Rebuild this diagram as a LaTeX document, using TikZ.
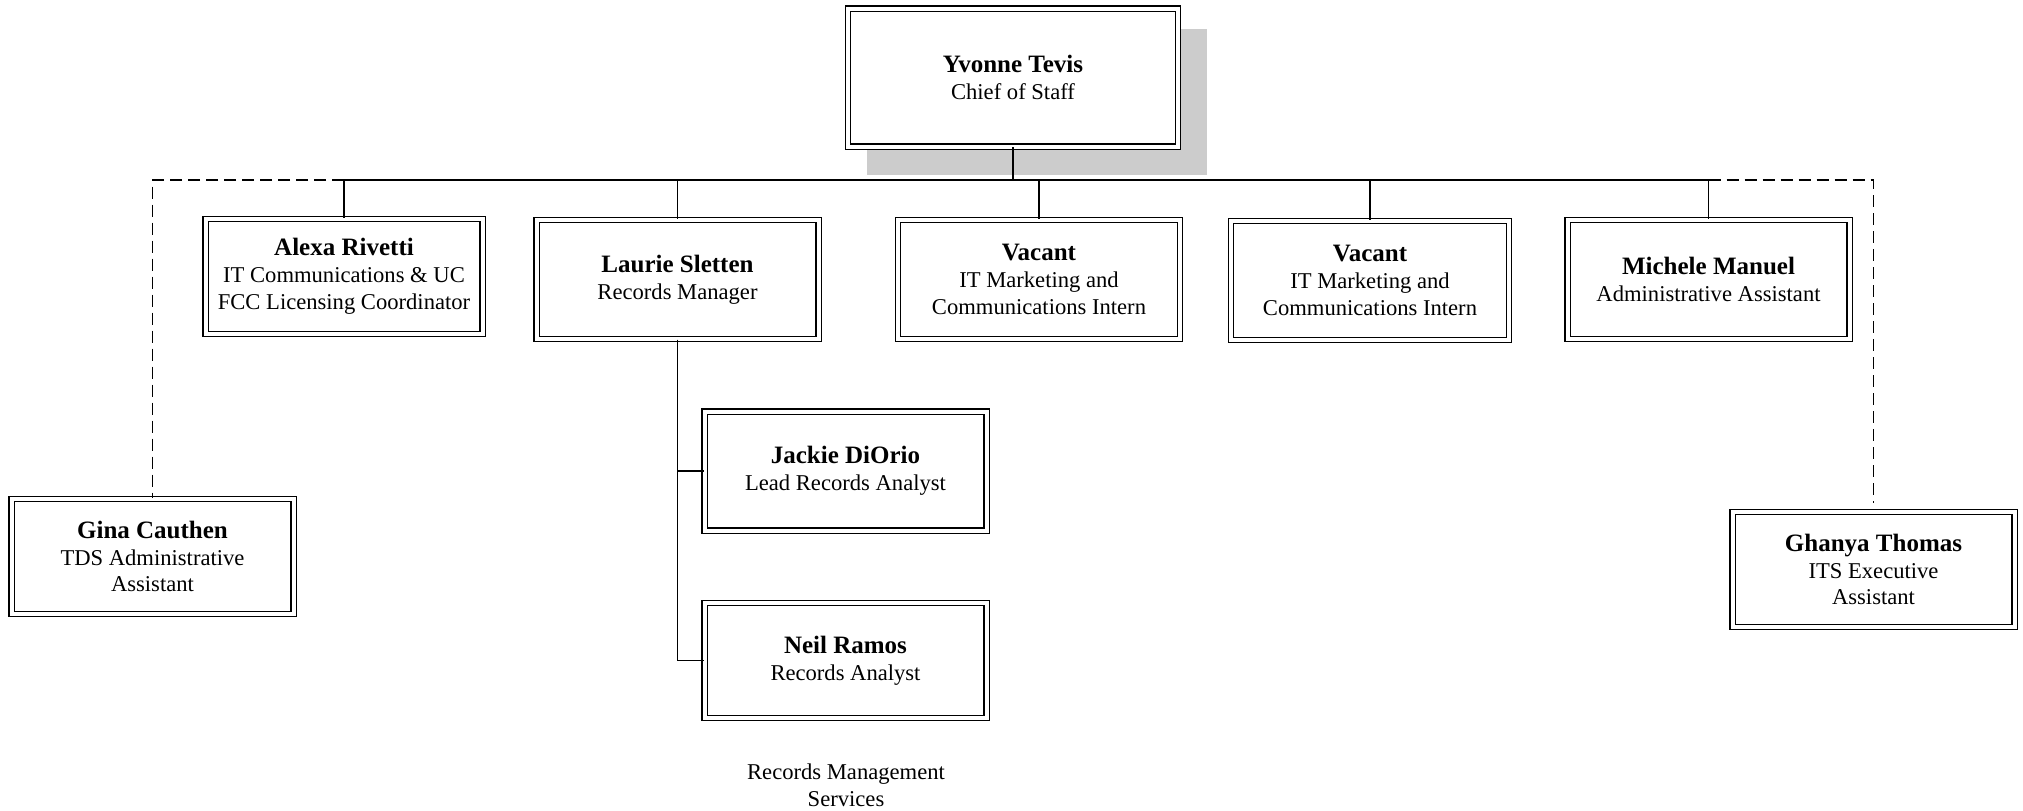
\documentclass[tikz,border=0pt]{standalone}
\usepackage{fontspec}
\setmainfont{Liberation Serif}
\usetikzlibrary{positioning, backgrounds}
\newcommand{\titlefont}{\fontsize{11.3}{13.4}\selectfont}
\newcommand{\pname}[1]{{\fontsize{12.5}{13.4}\selectfont\bfseries #1}}

\begin{document}
\begin{tikzpicture}[x=0.5pt, y=-0.5pt, person/.style={rectangle, draw=black, double, double distance=2pt, line width=0.6pt, fill=white, align=center, font=\titlefont, inner sep=0pt, minimum width=141pt, minimum height=59.5pt}, chief/.style={person, minimum width=165pt, minimum height=69pt}, link/.style={draw=black, line width=0.8pt}, dashlink/.style={draw=black, line width=0.8pt, dash pattern=on 6pt off 3pt}, caption/.style={draw=none, fill=none, align=center, font=\titlefont}]

    \useasboundingbox (0,0) rectangle (2023,810);

    %Nodes
    \node[chief](tevis) at (1013,77.5){\pname{Yvonne Tevis}\\Chief of Staff};
    \node[person, minimum width=138.5pt, minimum height=57.5pt](rivetti) at (344,276.5){\pname{Alexa Rivetti}\\IT Communications \& UC\\FCC Licensing Coordinator};
    \node[person](sletten) at (677.5,279.5){\pname{Laurie Sletten}\\Records Manager};
    \node[person](vacanta) at (1039,279.5){\pname{Vacant}\\IT Marketing and\\Communications Intern};
    \node[person, minimum width=139pt](vacantb) at (1370,280.5){\pname{Vacant}\\IT Marketing and\\Communications Intern};
    \node[person](manuel) at (1708.5,279.5){\pname{Michele Manuel}\\Administrative Assistant};
    \node[person, minimum height=57.5pt](cauthen) at (152.5,556.5){\pname{Gina Cauthen}\\TDS Administrative\\Assistant};
    \node[person, minimum height=57.5pt](thomas) at (1873.5,569.5){\pname{Ghanya Thomas}\\ITS Executive\\Assistant};
    \node[person](diorio) at (845.5,471){\pname{Jackie DiOrio}\\Lead Records Analyst};
    \node[person, minimum height=57.5pt](ramos) at (845.5,660.5){\pname{Neil Ramos}\\Records Analyst};
    \node[caption](rms) at (846,785){Records Management\\Services};
    \coordinate (bus) at (1013,180);

    %Shadow
    \begin{scope}[on background layer]
        \fill[black!20] ([xshift=10pt, yshift=-10.5pt]tevis.north west) rectangle ([xshift=14pt, yshift=-14pt]tevis.south east);
    \end{scope}

    %Lines
    \draw[link] (tevis.south) -- (bus);
    \foreach \who in {rivetti, sletten, vacanta, vacantb, manuel}
        \draw[link] (bus) -| (\who.north);
    \draw[dashlink] (rivetti.north |- bus) -| (cauthen.north);
    \draw[dashlink, shorten >=4pt] (manuel.north |- bus) -| (thomas.north);
    \draw[link] (sletten.south) |- (diorio.west);
    \draw[link] (sletten.south) |- (ramos.west);

\end{tikzpicture}
\end{document}
